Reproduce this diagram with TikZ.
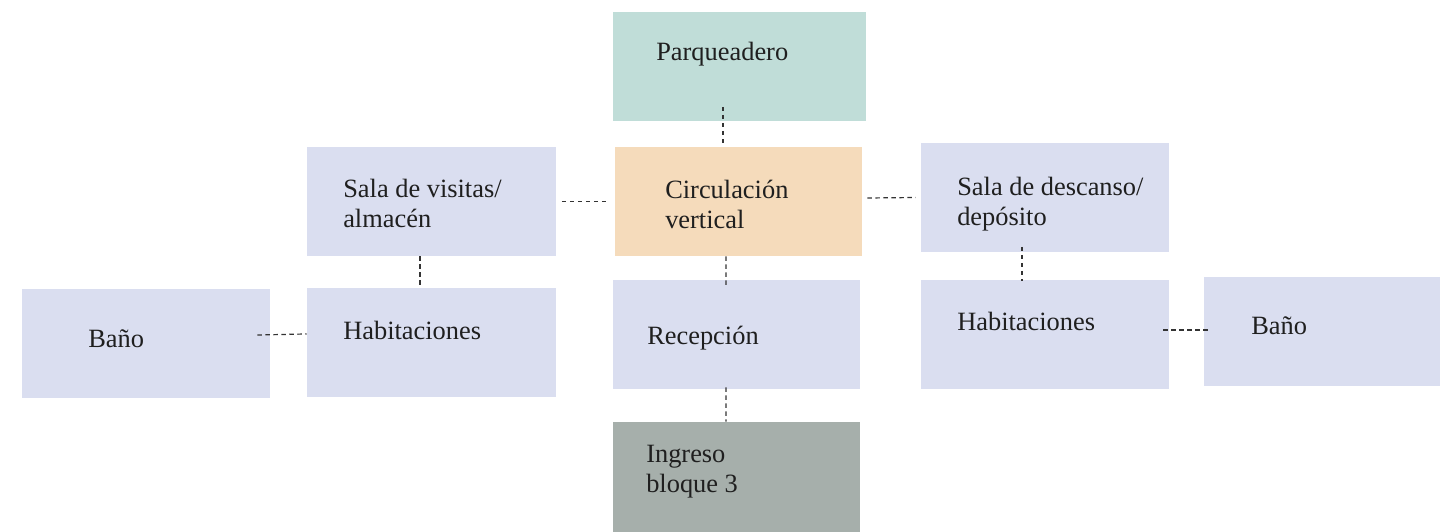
\documentclass[tikz,border=0pt]{standalone}
\usepackage{fontspec}
\setmainfont{Liberation Serif}
\usetikzlibrary{positioning}
\definecolor{parqteal}{RGB}{192,221,216}
\definecolor{circpeach}{RGB}{245,219,187}
\definecolor{roomblue}{RGB}{218,222,240}
\definecolor{ingresogray}{RGB}{166,175,171}

\begin{document}
\begin{tikzpicture}[
    x=0.75pt,y=-0.75pt,
    room/.style={inner sep=0pt,minimum width=186pt,minimum height=81.75pt,fill=roomblue},
    txt/.style={anchor=base west,inner sep=0pt,align=left,font=\fontsize{19.8}{22.5}\selectfont,text=black!88},
    conn/.style={draw=black!80,line width=0.9pt,dash pattern=on 3.5pt off 2.5pt}
]
\useasboundingbox (0,0) rectangle (1440,532);

% boxes
\node[room,fill=parqteal,minimum width=189.75pt] (parq) at (739.5,66.5) {};
\node[room,fill=circpeach,minimum width=185.25pt] (circ) at (738.5,201.5) {};
\node[room,minimum width=187pt] (visit) at (431.5,201.5) {};
\node[room,minimum width=187pt] (habL) at (431.5,342.5) {};
\node[room] (banoL) at (146,343.5) {};
\node[room,minimum width=185.25pt] (recep) at (736.5,334.5) {};
\node[room] (desc) at (1045,197.5) {};
\node[room] (habR) at (1045,334.5) {};
\node[room,minimum width=177pt] (banoR) at (1322,331.5) {};
\node[room,fill=ingresogray,minimum width=185.25pt,minimum height=82.5pt] (ingreso) at (736.5,477) {};

% texts (base = last line)
\node[txt] (parq-t) at (656,60) {Parqueadero};
\node[txt] (circ-t) at (665,228) {Circulación\\vertical};
\node[txt] (visit-t) at (343,227) {Sala de visitas/\\almacén};
\node[txt] (habL-t) at (343,339) {Habitaciones};
\node[txt] (banoL-t) at (88,347) {Baño};
\node[txt] (recep-t) at (647,344) {Recepción};
\node[txt] (desc-t) at (957,225) {Sala de descanso/\\depósito};
\node[txt] (habR-t) at (957,330) {Habitaciones};
\node[txt] (banoR-t) at (1251,334) {Baño};
\node[txt] (ingreso-t) at (646,492) {Ingreso\\bloque 3};

% connectors
\draw[conn] ([shift={(-16.5,-14.5)}]parq.south) -- ([shift={(-15.5,-4)}]circ.north);
\draw[conn] ([xshift=4pt]visit.east) -- ([xshift=-3.75pt]circ.west);
\draw[conn] ([shift={(5,-3.5)}]circ.east) -- ([xshift=-3.75pt]desc.west);
\draw[conn] ([xshift=-8.6pt]visit.south) -- ([xshift=-8.6pt]habL.north);
\draw[conn] ([xshift=-9.4pt]circ.south) -- ([shift={(-10.5,7)}]recep.north);
\draw[conn] ([shift={(-10.5,-2)}]recep.south) -- ([xshift=-7.9pt]ingreso.north);
\draw[conn] ([shift={(-23,-5.5)}]desc.south) -- ([shift={(-23,1)}]habR.north);
\draw[conn] ([shift={(-13,-8.5)}]banoL.east) -- ([yshift=6.4pt]habL.west);
\draw[conn] ([shift={(-6,-4.5)}]habR.east) -- ([shift={(7,-1.5)}]banoR.west);
\end{tikzpicture}
\end{document}
